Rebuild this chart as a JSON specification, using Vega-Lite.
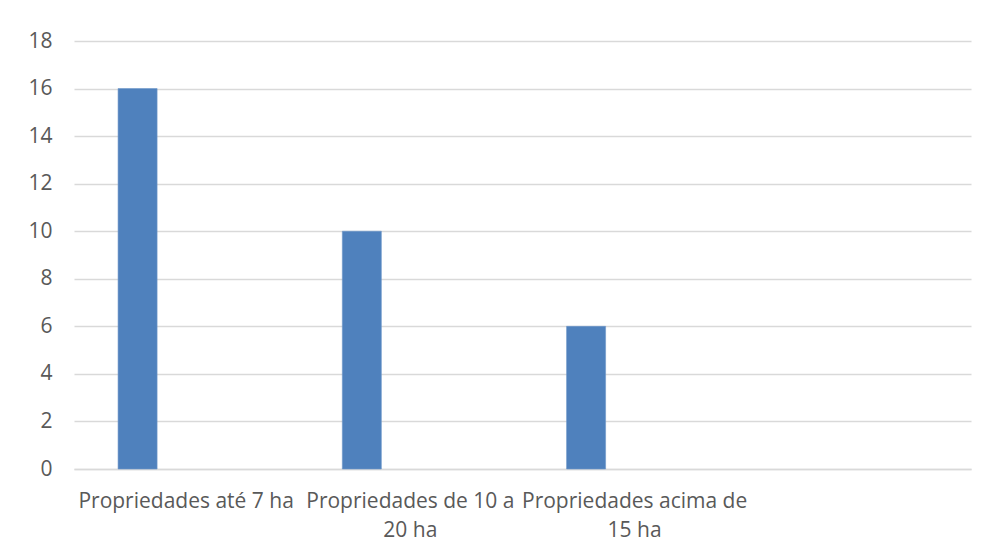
{
  "$schema": "https://vega.github.io/schema/vega-lite/v6.json",
  "width": 897,
  "height": 428,
  "autosize": {"type": "none"},
  "padding": {"left": 74, "top": 41, "right": 18, "bottom": 87},
  "background": "white",
  "config": {
    "view": {"stroke": null},
    "font": "Open Sans",
    "axis": {"labelFont": "Open Sans", "labelColor": "#595959", "labelFontSize": 21}
  },
  "data": {
    "values": [
      {"categoria": "Propriedades até 7 ha", "serie": "S1", "valor": 16},
      {"categoria": "Propriedades de 10 a 20 ha", "serie": "S1", "valor": 10},
      {"categoria": "Propriedades acima de 15 ha", "serie": "S1", "valor": 6}
    ]
  },
  "mark": {"type": "bar", "color": "#4F81BD", "stroke": "#6f97c9", "strokeWidth": 0.6},
  "encoding": {
    "x": {
      "field": "categoria",
      "type": "nominal",
      "sort": null,
      "scale": {
        "domain": ["Propriedades até 7 ha", "Propriedades de 10 a 20 ha", "Propriedades acima de 15 ha", "_"],
        "paddingInner": 0,
        "paddingOuter": 0
      },
      "axis": {
        "title": null,
        "labelAngle": 0,
        "ticks": false,
        "domain": true,
        "domainColor": "#d9d9d9",
        "domainWidth": 1.5,
        "labelPadding": 21,
        "labelLimit": 0,
        "labelOverlap": false,
        "labelLineHeight": 29,
        "labelExpr": "datum.value == 'Propriedades de 10 a 20 ha' ? ['Propriedades de 10 a', '20 ha'] : datum.value == 'Propriedades acima de 15 ha' ? ['Propriedades acima de', '15 ha'] : datum.value == '_' ? '' : datum.value"
      }
    },
    "xOffset": {
      "field": "serie",
      "type": "nominal",
      "scale": {"domain": ["S1", "S2"], "paddingInner": 0.598, "paddingOuter": 0.454}
    },
    "y": {
      "field": "valor",
      "type": "quantitative",
      "scale": {"domain": [0, 18], "nice": false},
      "axis": {
        "title": null,
        "values": [0, 2, 4, 6, 8, 10, 12, 14, 16, 18],
        "domain": false,
        "ticks": false,
        "grid": true,
        "gridColor": "#d9d9d9",
        "gridWidth": 1.3,
        "labelPadding": 22
      }
    }
  }
}
